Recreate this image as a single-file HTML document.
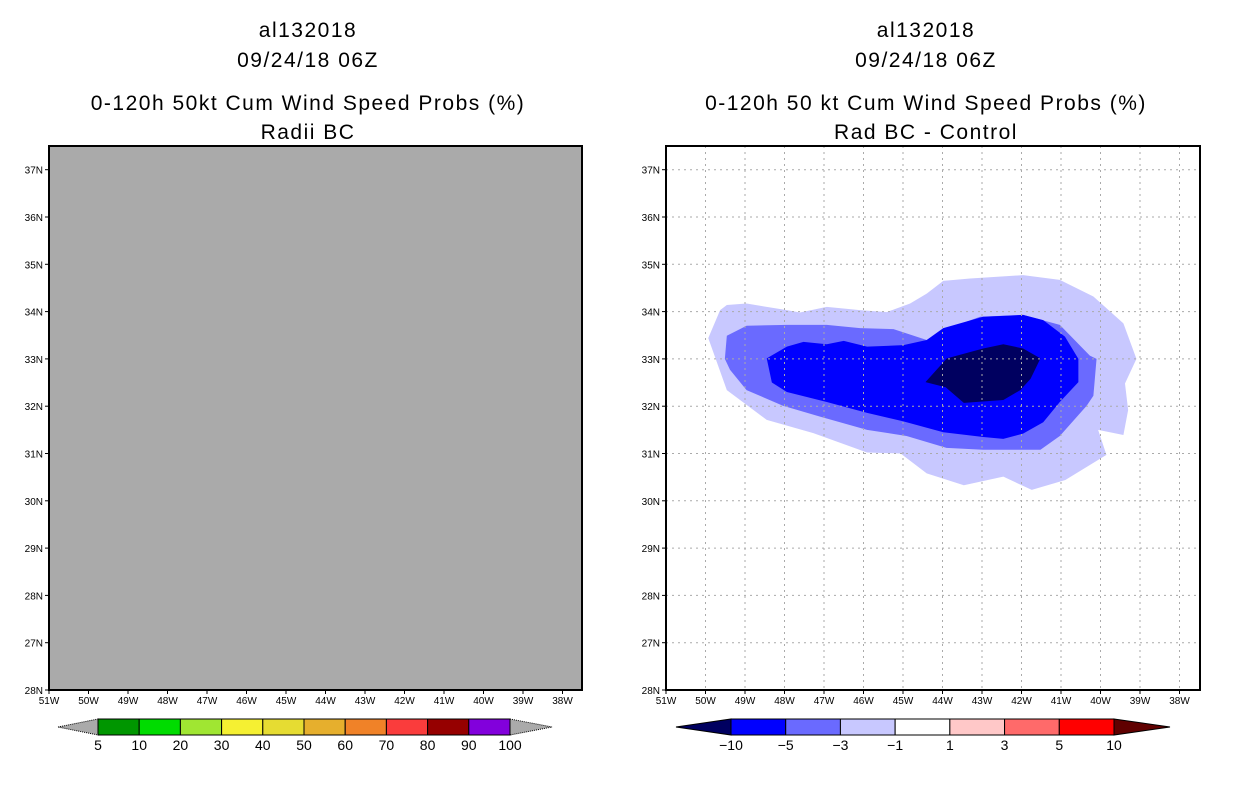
<!DOCTYPE html>
<html><head><meta charset="utf-8"><style>
body{margin:0;background:#fff}
svg{display:block;font-family:"Liberation Sans",sans-serif}
.t{font-size:21px;letter-spacing:1.5px;text-anchor:middle}
.tk{font-size:10px;text-anchor:middle}
.tl{font-size:10px;text-anchor:end}
.cb{font-size:14px;text-anchor:middle}
</style></head><body>
<svg id="s" width="1236" height="800">
<g>
<text class="t" x="308" y="37">al132018</text>
<text class="t" x="308" y="67">09/24/18 06Z</text>
<text class="t" x="308" y="110">0-120h 50kt Cum Wind Speed Probs (%)</text>
<text class="t" x="308" y="139">Radii BC</text>
</g>
<g>
<text class="t" x="926" y="37">al132018</text>
<text class="t" x="926" y="67">09/24/18 06Z</text>
<text class="t" x="926" y="110">0-120h 50 kt Cum Wind Speed Probs (%)</text>
<text class="t" x="926" y="139">Rad BC - Control</text>
</g>
<rect x="49" y="146" width="533" height="544" fill="#aaaaaa"/>
<g id="rc"></g>
<g id="grid"></g>
<rect x="49" y="146" width="533" height="544" fill="none" stroke="#000" stroke-width="2"/>
<rect x="666" y="146" width="534" height="544" fill="none" stroke="#000" stroke-width="2"/>
<g id="ax"></g>
<g id="cbl"></g>
<g id="cbr"></g>
</svg>
<script>
const lons=[51,50,49,48,47,46,45,44,43,42,41,40,39,38];
const lats=[26,27,28,29,30,31,32,33,34,35,36,37];
const leftLevels=["5","10","20","30","40","50","60","70","80","90","100"];
const leftColors=["#009600","#00dc00","#a0e632","#f5f032","#e6dc32","#e6af2d","#f08228","#fa3c3c","#960000","#8200dc"];
const rightLevels=["-10","-5","-3","-1","1","3","5","10"];
const rightColors=["#0000ff","#6a6aff","#c8c8ff","#ffffff","#ffc8c8","#ff6a6a","#ff0000"];
const contourLevels=["-1","-3","-5","-10"];
const contourColors=["#c8c8ff","#6a6aff","#0000ff","#000060"];
const polyLight=[[-49.93,33.44],[-49.63,34.03],[-49.46,34.14],[-48.96,34.17],[-47.94,34.03],[-47.61,33.98],[-46.93,34.10],[-46.09,34.03],[-45.41,33.99],[-44.82,34.17],[-44.40,34.38],[-43.98,34.65],[-43.30,34.70],[-41.96,34.77],[-41.03,34.67],[-40.18,34.32],[-39.42,33.75],[-39.09,33.0],[-39.38,32.48],[-39.30,31.92],[-39.42,31.39],[-40.06,31.50],[-39.85,30.97],[-40.89,30.44],[-41.74,30.23],[-42.46,30.51],[-43.46,30.33],[-44.40,30.58],[-45.06,31.0],[-45.91,31.02],[-47.27,31.43],[-48.45,31.71],[-49.46,32.34]];
const polyMed=[[-49.51,33.0],[-49.46,33.49],[-48.96,33.70],[-47.94,33.72],[-46.93,33.72],[-46.09,33.65],[-45.24,33.63],[-44.40,33.40],[-43.98,33.61],[-43.05,33.89],[-41.96,33.93],[-41.03,33.72],[-40.27,33.07],[-40.10,33.0],[-40.18,32.22],[-40.35,32.01],[-41.03,31.37],[-41.52,31.08],[-42.97,31.08],[-43.90,31.12],[-44.91,31.37],[-45.91,31.50],[-47.10,31.78],[-48.04,32.01],[-48.96,32.34],[-49.38,32.77]];
const polyBlue=[[-48.45,33.01],[-47.94,33.26],[-47.52,33.36],[-46.93,33.31],[-46.50,33.38],[-45.91,33.26],[-44.99,33.29],[-44.40,33.40],[-43.98,33.65],[-42.97,33.89],[-41.96,33.93],[-41.45,33.82],[-40.90,33.47],[-40.56,33.0],[-40.56,32.51],[-41.03,32.09],[-41.45,31.66],[-41.96,31.42],[-42.46,31.31],[-42.97,31.35],[-43.98,31.45],[-44.99,31.68],[-45.91,31.86],[-46.93,32.09],[-47.94,32.30],[-48.32,32.50]];
const polyDark=[[-44.43,32.51],[-43.89,33.01],[-42.97,33.22],[-42.46,33.31],[-41.96,33.22],[-41.52,33.01],[-41.77,32.58],[-42.03,32.34],[-42.46,32.13],[-43.46,32.07],[-43.92,32.40]];
const polys=[polyLight,polyMed,polyBlue,polyDark];

const NS="http://www.w3.org/2000/svg";
function mk(p,t,a){const e=document.createElementNS(NS,t);for(const k in a)e.setAttribute(k,a[k]);p.appendChild(e);return e;}
function xL(lon,x0){return x0+(lon+51)*39.5;}
function yL(lat){return 690-(lat-26)*47.3;}
const rc=document.getElementById('rc');
polys.forEach((p,i)=>{
  const e=mk(rc,'polygon',{points:p.map(q=>xL(q[0],666)+','+yL(q[1])).join(' '),fill:contourColors[i]});
  
  
});
const g=document.getElementById('grid');
lons.forEach(l=>{if(l<51){const x=xL(-l,666);const e=mk(g,'line',{x1:x,x2:x,y1:146,y2:690,stroke:'#aaa','stroke-dasharray':'2,4'});

}});
lats.forEach(l=>{if(l>26){const y=yL(l);const e=mk(g,'line',{x1:666,x2:1200,y1:y,y2:y,stroke:'#aaa','stroke-dasharray':'2,4'});

}});
const ax=document.getElementById('ax');
[49,666].forEach(x0=>{
  lons.forEach(l=>{const x=xL(-l,x0);mk(ax,'line',{x1:x,x2:x,y1:690,y2:694,stroke:'#000'});
    const t=mk(ax,'text',{class:'tk',x:x,y:704});t.textContent=l+'W';
    
    });
  lats.forEach(l=>{const y=yL(l);mk(ax,'line',{x1:x0-4,x2:x0,y1:y,y2:y,stroke:'#000'});
    const t=mk(ax,'text',{class:'tl',x:x0-6,y:y+4});t.textContent=(l==26?'28':l)+'N';
    
    });
});
// left colorbar
const cl=document.getElementById('cbl');
const lw=(510-98)/leftColors.length;
mk(cl,'polygon',{points:'58,727 98,719 98,735',fill:'#aaa',stroke:'#000','stroke-dasharray':'1,1'});
mk(cl,'polygon',{points:'510,719 552,727 510,735',fill:'#aaa',stroke:'#000','stroke-dasharray':'1,1'});
leftColors.forEach((c,i)=>{const e=mk(cl,'rect',{x:98+i*lw,y:719,width:lw,height:16,fill:c,stroke:'#000'});

});
leftLevels.forEach((v,i)=>{const t=mk(cl,'text',{class:'cb',x:98+i*lw,y:750});t.textContent=v;

});
// right colorbar
const cr=document.getElementById('cbr');
const rw=(1114-731)/rightColors.length;
mk(cr,'polygon',{points:'676,727 731,719 731,735',fill:'#000060',stroke:'#000'});
mk(cr,'polygon',{points:'1114,719 1170,727 1114,735',fill:'#600000',stroke:'#000'});
rightColors.forEach((c,i)=>{const e=mk(cr,'rect',{x:731+i*rw,y:719,width:rw,height:16,fill:c,stroke:'#000'});

});
rightLevels.forEach((v,i)=>{const t=mk(cr,'text',{class:'cb',x:731+i*rw,y:750});t.textContent=v.replace('-','−');

});
</script>
</body></html>
